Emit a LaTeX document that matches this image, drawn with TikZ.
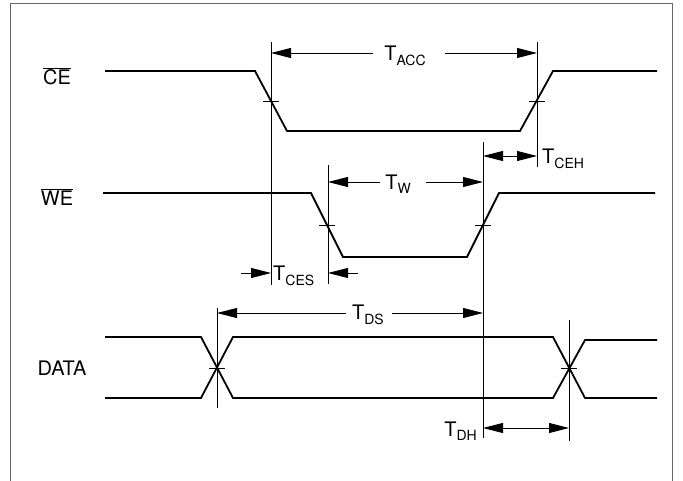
\documentclass[tikz,border=0pt]{standalone}
\usepackage{fontspec}
\setmainfont{TeX Gyre Heros}
\usetikzlibrary{arrows.meta}
\newcommand{\tsub}[1]{T\raisebox{-0.22em}{\fontsize{14}{14}\selectfont #1}}
\begin{document}
\begin{tikzpicture}[x=1pt,y=-1pt,
  frame/.style={line width=1pt, draw=black!60},
  sig/.style={line width=1.8pt, line join=miter},
  guide/.style={line width=0.9pt},
  tick/.style={line width=0.9pt},
  dimone/.style={line width=0.9pt, -{Triangle[length=20pt,width=10pt]}},
  dimtwo/.style={line width=0.9pt, {Triangle[length=20pt,width=10pt]}-{Triangle[length=20pt,width=10pt]}},
  lbl/.style={font=\fontsize{20}{22}\selectfont, inner sep=0pt},
]
\useasboundingbox (0,0) rectangle (683,481);
% frame
\coordinate (fbl) at (10,481); \coordinate (ftl) at (10,4);
\coordinate (ftr) at (672,4); \coordinate (fbr) at (672,481);
\draw[frame] (fbl) -- (ftl) -- (ftr) -- (fbr);

% signal names
\node[lbl] (ce) at (57,76) {$\overline{\mbox{CE}}$};
\node[lbl] (we) at (57,197) {$\overline{\mbox{WE}}$};
\node[lbl] (data) at (62,368) {DATA};

% CE signal
\draw[sig] (105,71) -- (255,71) -- (287,131) -- (520,131) -- (553,71) -- (657,71);
% WE signal
\draw[sig] (103,193) -- (311,193) -- (343,257) -- (467,257) -- (499,193) -- (655,193);
% DATA signal
\draw[sig] (105,337) -- (201,337) -- (233,398) -- (553,398) -- (585,340) -- (657,340);
\draw[sig] (105,398) -- (201,398) -- (233,337) -- (553,337) -- (585,398) -- (657,398);

% crossing ticks
\draw[tick] (263,101) -- (279,101);
\draw[tick] (529,101) -- (545,101);
\draw[tick] (319,225) -- (335,225);
\draw[tick] (475,225) -- (491,225);
\draw[tick] (209,368) -- (225,368);
\draw[tick] (561,368) -- (577,368);

% guide lines
\coordinate (v1t) at (271,42);  \coordinate (v1b) at (271,285);
\coordinate (v2t) at (537,42);  \coordinate (v2b) at (537,167);
\coordinate (v3t) at (328,165); \coordinate (v3b) at (328,284);
\coordinate (v4t) at (483,142); \coordinate (v4b) at (483,438);
\coordinate (v5t) at (217,308); \coordinate (v5b) at (217,408);
\coordinate (v6t) at (569,320); \coordinate (v6b) at (569,441);
\draw[guide] (v1t) -- (v1b);
\draw[guide] (v2t) -- (v2b);
\draw[guide] (v3t) -- (v3b);
\draw[guide] (v4t) -- (v4b);
\draw[guide] (v5t) -- (v5b);
\draw[guide] (v6t) -- (v6b);

% TACC
\node[lbl] (tacc) at (405,56) {\tsub{ACC}};
\coordinate (taccL) at (373,53); \coordinate (taccR) at (445,53);
\coordinate (taccA) at (271,53); \coordinate (taccB) at (537,53);
\draw[dimone] (taccL) -- (taccA);
\draw[dimone] (taccR) -- (taccB);

% TCEH
\coordinate (tcehA) at (483,156); \coordinate (tcehB) at (537,156);
\draw[dimtwo] (tcehA) -- (tcehB);
\node[lbl, anchor=west] (tceh) at (542,159) {\tsub{CEH}};

% TW
\node[lbl] (tw) at (398,184) {\tsub{W}};
\coordinate (twL) at (380,182); \coordinate (twR) at (426,182);
\coordinate (twA) at (328,182); \coordinate (twB) at (483,182);
\draw[dimone] (twL) -- (twA);
\draw[dimone] (twR) -- (twB);

% TCES
\coordinate (tcesS) at (241,273); \coordinate (tcesA) at (271,273);
\coordinate (tcesT) at (358,273); \coordinate (tcesB) at (328,273);
\draw[dimone] (tcesS) -- (tcesA);
\draw[dimone] (tcesT) -- (tcesB);
\node[lbl, anchor=west] (tces) at (273,276) {\tsub{CES}};

% TDS
\node[lbl] (tds) at (368,315) {\tsub{DS}};
\coordinate (tdsL) at (346,313); \coordinate (tdsR) at (392,313);
\coordinate (tdsA) at (217,313); \coordinate (tdsB) at (483,313);
\draw[dimone] (tdsL) -- (tdsA);
\draw[dimone] (tdsR) -- (tdsB);

% TDH
\coordinate (tdhA) at (483,428); \coordinate (tdhB) at (569,428);
\draw[dimtwo] (tdhA) -- (tdhB);
\node[lbl, anchor=east] (tdh) at (477,431) {\tsub{DH}};
\end{tikzpicture}
\end{document}
